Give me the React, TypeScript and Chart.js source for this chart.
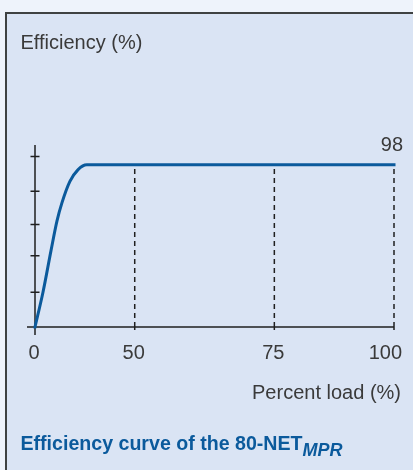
import React, { useEffect, useRef } from 'react';
import { Chart, registerables, LinearScale } from 'chart.js';

// ---- data ----
const loadPct = [0, 4, 8, 11, 13.5, 17.5, 21.5, 26, 100];
const efficiencyPct = [0, 21, 46, 64, 75, 88, 95, 98, 98];
const xTickValues = [0, 50, 75, 100];
const xTickLabels = ['0', '50', '75', '100'];
const guideLoads = [50, 75, 100];
const yTickMarks = [21, 43, 62, 82, 103];
const plateauValue = 98;
const plateauLabel = '98';
// the reference axis is not uniform: spans between these loads have these relative widths
const xBreaks = [0, 50, 75, 100];
const xSpanWeights = [5, 7, 6];

const FONT = '"Liberation Sans", Arial, Helvetica, sans-serif';
const TEXT = '#3a3a3a';
const BLUE = '#0b5a9c';
const AXIS = '#1f1f1f';

class PiecewiseScale extends LinearScale {
  static id = 'piecewise';
  static defaults = LinearScale.defaults;
  toDecimal(v: number) {
    const total = xSpanWeights.reduce((a, c) => a + c, 0);
    let acc = 0;
    for (let i = 0; i < xSpanWeights.length; i++) {
      if (v <= xBreaks[i + 1] || i === xSpanWeights.length - 1) {
        return (acc + (xSpanWeights[i] * (v - xBreaks[i])) / (xBreaks[i + 1] - xBreaks[i])) / total;
      }
      acc += xSpanWeights[i];
    }
    return 0;
  }
  getPixelForValue(value: any) {
    if (value === null || value === undefined) return NaN;
    return this.getPixelForDecimal(this.toDecimal(value));
  }
  getValueForPixel(pixel: number) {
    const d = this.getDecimalForPixel(pixel);
    const total = xSpanWeights.reduce((a, c) => a + c, 0);
    let acc = 0;
    for (let i = 0; i < xSpanWeights.length; i++) {
      const next = acc + xSpanWeights[i] / total;
      if (d <= next || i === xSpanWeights.length - 1) {
        return xBreaks[i] + ((d - acc) / (xSpanWeights[i] / total)) * (xBreaks[i + 1] - xBreaks[i]);
      }
      acc = next;
    }
    return 0;
  }
}

Chart.register(...registerables, PiecewiseScale);

const axesPlugin = {
  id: 'schematicAxes',
  beforeDatasetsDraw(chart: any) {
    const { ctx, chartArea } = chart;
    const xs = chart.scales.x;
    const ys = chart.scales.y;
    const x0 = xs.getPixelForValue(0);
    const y0 = ys.getPixelForValue(0);
    const xEnd = xs.getPixelForValue(100);
    ctx.save();
    ctx.strokeStyle = AXIS;
    ctx.lineWidth = 1.5;
    ctx.beginPath();
    ctx.moveTo(x0, chartArea.top);
    ctx.lineTo(x0, y0 + 8);
    ctx.moveTo(x0 - 8, y0);
    ctx.lineTo(xEnd, y0);
    for (const v of yTickMarks) {
      const py = ys.getPixelForValue(v);
      ctx.moveTo(x0 - 4.5, py);
      ctx.lineTo(x0 + 4.5, py);
    }
    for (const v of xTickValues) {
      if (v === 0) continue;
      const px = xs.getPixelForValue(v);
      ctx.moveTo(px, y0);
      ctx.lineTo(px, y0 + 3);
    }
    ctx.stroke();

    ctx.fillStyle = TEXT;
    ctx.font = `20px ${FONT}`;
    ctx.textBaseline = 'alphabetic';
    xTickValues.forEach((v, i) => {
      const px = xs.getPixelForValue(v);
      const last = i === xTickValues.length - 1;
      ctx.textAlign = last ? 'right' : 'center';
      ctx.fillText(xTickLabels[i], last ? px + 8 : px - 1, y0 + 31.5);
    });
    ctx.textAlign = 'right';
    ctx.fillText(plateauLabel, xEnd + 9, ys.getPixelForValue(plateauValue) - 14);
    ctx.restore();
  },
};

export default function App() {
  const ref = useRef<HTMLCanvasElement>(null);
  useEffect(() => {
    if (!ref.current) return;
    const datasets: any[] = [
      {
        data: loadPct.map((x, i) => ({ x, y: efficiencyPct[i] })),
        borderColor: BLUE,
        borderWidth: 3,
        pointRadius: 0,
        cubicInterpolationMode: 'monotone',
        borderCapStyle: 'square',
        clip: false,
        fill: false,
      },
      ...guideLoads.map((x) => ({
        data: [
          { x, y: 0 },
          { x, y: plateauValue },
        ],
        borderColor: AXIS,
        borderWidth: 1.5,
        borderDash: [5, 4],
        pointRadius: 0,
        tension: 0,
        clip: false,
        fill: false,
      })),
    ];
    const chart = new Chart(ref.current, {
      type: 'line',
      data: { datasets },
      options: {
        responsive: false,
        animation: false,
        events: [],
        layout: { padding: { left: 35, right: 19, top: 145, bottom: 143 } },
        plugins: { legend: { display: false }, tooltip: { enabled: false }, title: { display: false } },
        scales: {
          x: { type: 'piecewise' as any, min: 0, max: 100, display: false },
          y: { type: 'linear', min: 0, max: 110, display: false },
        },
      },
      plugins: [axesPlugin],
    } as any);
    return () => chart.destroy();
  }, []);

  return (
    <div
      style={{
        position: 'fixed',
        left: 0,
        top: 0,
        width: 413,
        height: 470,
        overflow: 'hidden',
        background: '#eef3fb',
        fontFamily: FONT,
      }}
    >
      <div
        style={{
          position: 'absolute',
          left: 5,
          top: 12,
          width: 600,
          height: 700,
          background: '#dae4f4',
          borderTop: '2px solid #3f4242',
          borderLeft: '2px solid #3f4242',
          boxSizing: 'border-box',
        }}
      />
      <canvas ref={ref} width={413} height={470} style={{ position: 'absolute', left: 0, top: 0 }} />
      <div
        style={{
          position: 'absolute',
          left: 20.5,
          top: 31.8,
          fontSize: 20,
          lineHeight: '20px',
          color: TEXT,
          whiteSpace: 'nowrap',
        }}
      >
        Efficiency (%)
      </div>
      <div
        style={{
          position: 'absolute',
          right: 12,
          top: 382.4,
          fontSize: 20,
          lineHeight: '20px',
          color: TEXT,
          whiteSpace: 'nowrap',
        }}
      >
        Percent load (%)
      </div>
      <div
        style={{
          position: 'absolute',
          left: 20.5,
          top: 434.1,
          fontSize: 19.6,
          lineHeight: '19.6px',
          fontWeight: 'bold',
          color: BLUE,
          whiteSpace: 'nowrap',
        }}
      >
        Efficiency curve of the 80-NET
        <span style={{ fontSize: 18, fontStyle: 'italic', position: 'relative', top: 6 }}>MPR</span>
      </div>
    </div>
  );
}
